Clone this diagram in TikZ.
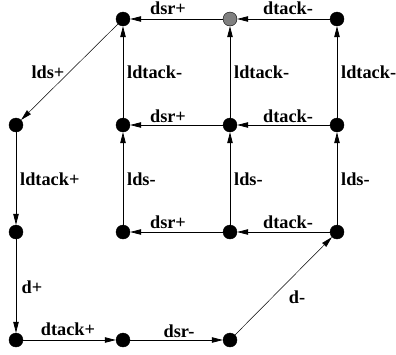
\documentclass[tikz,border=0pt]{standalone}
\usepackage{fontspec}
\setmainfont{Liberation Serif}
\usetikzlibrary{arrows.meta}
\begin{document}
\begin{tikzpicture}[x=1pt,y=-1pt,
  state/.style={circle,fill=black,draw=black,inner sep=0pt,minimum size=14pt},
  initstate/.style={state,fill=black!50},
  trans/.style={-{Triangle[length=11pt,width=5.5pt]},line width=0.7pt},
  diag/.style={trans,line width=0.5pt},
  lbl/.style={inner sep=0pt,font=\fontsize{18.3}{21}\selectfont\bfseries}]
\useasboundingbox (0,0) rectangle (396,354);
% states of the grid
\node[state]     (a1) at (123,19) {};
\node[initstate] (a2) at (230,19) {};
\node[state]     (a3) at (337,19) {};
\node[state]     (b1) at (123,125) {};
\node[state]     (b2) at (230,125) {};
\node[state]     (b3) at (337,125) {};
\node[state]     (c1) at (123,232) {};
\node[state]     (c2) at (230,232) {};
\node[state]     (c3) at (337,232) {};
% states of the outer path
\node[state] (l1) at (16,125) {};
\node[state] (l2) at (16,232) {};
\node[state] (l3) at (16,340) {};
\node[state] (d1) at (123,340) {};
\node[state] (d2) at (230,340) {};
% grid transitions
\draw[trans] (a3) -- (a2);
\draw[trans] (a2) -- (a1);
\draw[trans] (b3) -- (b2);
\draw[trans] (b2) -- (b1);
\draw[trans] (c3) -- (c2);
\draw[trans] (c2) -- (c1);
\draw[trans] (b1) -- (a1);
\draw[trans] (b2) -- (a2);
\draw[trans] (b3) -- (a3);
\draw[trans] (c1) -- (b1);
\draw[trans] (c2) -- (b2);
\draw[trans] (c3) -- (b3);
% outer path transitions
\draw[diag]  (a1) -- (l1);
\draw[trans] (l1) -- (l2);
\draw[trans] (l2) -- (l3);
\draw[trans] (l3) -- (d1);
\draw[trans] (d1) -- (d2);
\draw[diag]  (d2) -- (c3);
% labels
\node[lbl] (t1) at (168,8) {dsr+};
\node[lbl] (t2) at (288,8) {dtack-};
\node[lbl] (t3) at (168,116) {dsr+};
\node[lbl] (t4) at (288,116) {dtack-};
\node[lbl] (t5) at (168,222) {dsr+};
\node[lbl] (t6) at (288,222) {dtack-};
\node[lbl,anchor=west] (t7) at (127,72) {ldtack-};
\node[lbl,anchor=west] (t8) at (234,72) {ldtack-};
\node[lbl,anchor=west] (t9) at (341,72) {ldtack-};
\node[lbl,anchor=west] (t10) at (127,179) {lds-};
\node[lbl,anchor=west] (t11) at (234,179) {lds-};
\node[lbl,anchor=west] (t12) at (341,179) {lds-};
\node[lbl] (t13) at (48,72) {lds+};
\node[lbl,anchor=west] (t14) at (20,179) {ldtack+};
\node[lbl] (t15) at (32,287) {d+};
\node[lbl] (t16) at (68,329) {dtack+};
\node[lbl] (t17) at (179,331) {dsr-};
\node[lbl] (t18) at (297,297) {d-};
\end{tikzpicture}
\end{document}
